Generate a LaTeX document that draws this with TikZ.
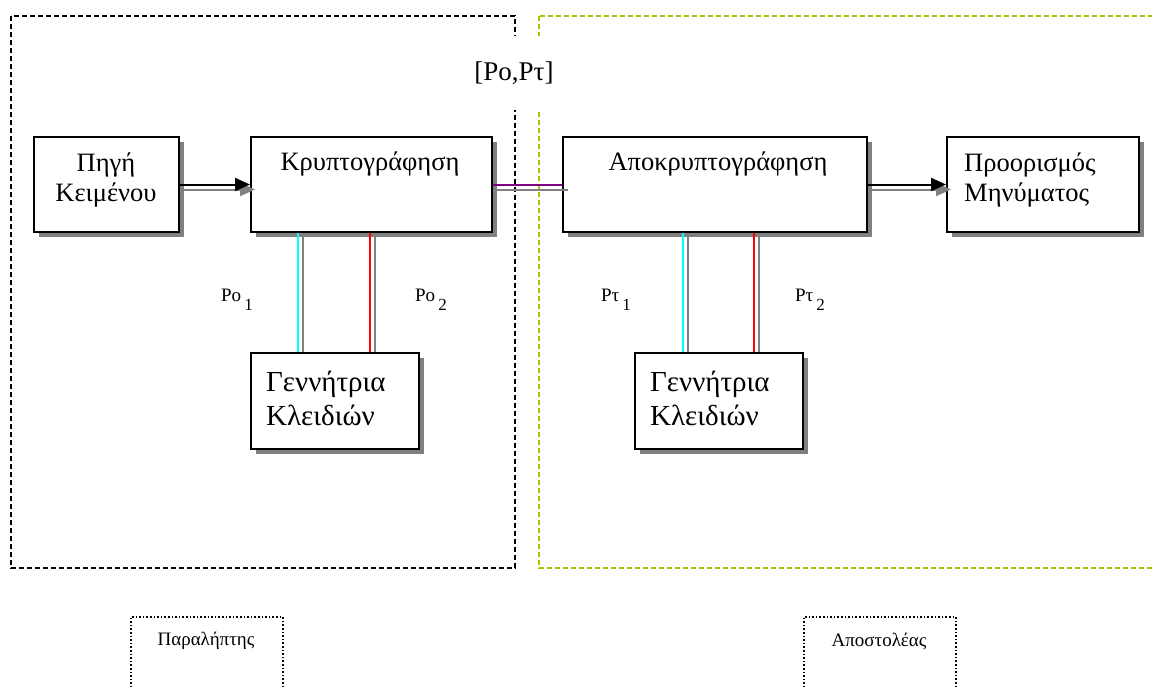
\documentclass[tikz,border=0pt]{standalone}
\usepackage{fontspec}
\setmainfont{Liberation Serif}
\usetikzlibrary{arrows.meta,shadows}
\definecolor{shadowgray}{RGB}{128,128,128}
\definecolor{frgreen}{RGB}{153,204,0}
\definecolor{purp}{RGB}{128,0,128}
\definecolor{keycyan}{RGB}{0,255,255}
\definecolor{keyred}{RGB}{255,0,0}
\begin{document}
\begin{tikzpicture}[x=1pt,y=-1pt,
  box/.style={draw,line width=2pt,fill=white,anchor=north west,inner sep=0pt,
    drop shadow={shadow xshift=5pt,shadow yshift=-5pt,fill=shadowgray,opacity=1}},
  txt/.style={font=\fontsize{26.5}{30}\selectfont,inner sep=0pt},
  gtxt/.style={font=\fontsize{29}{34}\selectfont,inner sep=0pt,align=left,anchor=west},
  sml/.style={font=\fontsize{19}{20}\selectfont,inner sep=0pt},
  conn/.style={line width=2pt},
  tip/.style={-{Triangle[length=15pt,width=13pt]}},
  frame/.style={line width=1.6pt,dash pattern=on 5pt off 3pt},
  dotbox/.style={draw,line width=1.6pt,dotted,anchor=north west,inner sep=0pt}]
\useasboundingbox (0,0) rectangle (1152,686);
\clip (0,0) rectangle (1152,686);
% frames
\draw[frame,black] (11,16) rectangle (515,568);
\draw[frame,frgreen] (539,16) rectangle (1170,568);
% key label box (white, covers frame lines)
\node[fill=white,inner sep=0pt,minimum width=96pt,minimum height=74pt,
  font=\fontsize{27}{30}\selectfont] (key) at (514,73) {[Po,Pτ]};
% boxes
\node[box,minimum width=145pt,minimum height=95pt] (src) at (33,136) {};
\node[box,minimum width=241pt,minimum height=95pt] (enc) at (250,136) {};
\node[box,minimum width=304pt,minimum height=95pt] (dec) at (562,136) {};
\node[box,minimum width=192pt,minimum height=95pt] (dst) at (946,136) {};
\node[box,minimum width=168pt,minimum height=96pt] (gen1) at (250,352) {};
\node[box,minimum width=168pt,minimum height=96pt] (gen2) at (634,352) {};
% texts
\node[txt,align=center] (tsrc) at (106,180) {Πηγή\\Κειμένου};
\node[txt] (tenc) at (370,164) {Κρυπτογράφηση};
\node[txt] (tdec) at (718,164) {Αποκρυπτογράφηση};
\node[txt,align=left,anchor=west] (tdst) at (964,180) {Προορισμός\\Μηνύματος};
\node[gtxt] (tgen1) at (266,398) {Γεννήτρια\\Κλειδιών};
\node[gtxt] (tgen2) at (650,398) {Γεννήτρια\\Κλειδιών};
\node[sml] (po1) at (237,300) {Po\,\raisebox{-0.45em}{\fontsize{17}{17}\selectfont 1}};
\node[sml] (po2) at (431,300) {Po\,\raisebox{-0.45em}{\fontsize{17}{17}\selectfont 2}};
\node[sml] (pt1) at (616,300) {Pτ\,\raisebox{-0.45em}{\fontsize{17}{17}\selectfont 1}};
\node[sml] (pt2) at (810,300) {Pτ\,\raisebox{-0.45em}{\fontsize{17}{17}\selectfont 2}};
% bottom dotted boxes
\node[dotbox,minimum width=152pt,minimum height=120pt] (rcvbox) at (130,616) {};
\node[dotbox,minimum width=152pt,minimum height=120pt] (sndbox) at (803,616) {};
\node[inner sep=0pt,font=\fontsize{19}{20}\selectfont] (rcv) at (206,641) {Παραλήπτης};
\node[inner sep=0pt,font=\fontsize{19}{20}\selectfont] (snd) at (879,641) {Αποστολέας};
% arrows
\draw[conn,shadowgray,tip] ([yshift=-5pt]src.east) -- ([xshift=5pt,yshift=-5pt]enc.west);
\draw[conn,black,tip] (src.east) -- (enc.west);
\draw[conn,shadowgray,tip] ([yshift=-5pt]dec.east) -- ([xshift=5pt,yshift=-5pt]dst.west);
\draw[conn,black,tip] (dec.east) -- (dst.west);
\draw[conn,shadowgray] ([xshift=4pt,yshift=-5pt]enc.east) -- ([xshift=6pt,yshift=-5pt]dec.west);
\draw[conn,purp] (enc.east) -- (dec.west);
% key lines left
\draw[conn,keycyan] ([xshift=48pt]enc.south west) -- ([xshift=48pt]gen1.north west);
\draw[conn,shadowgray] ([xshift=53pt]enc.south west) -- ([xshift=53pt]gen1.north west);
\draw[conn,keyred] ([xshift=120pt]enc.south west) -- ([xshift=120pt]gen1.north west);
\draw[conn,shadowgray] ([xshift=125pt]enc.south west) -- ([xshift=125pt]gen1.north west);
% key lines right
\draw[conn,keycyan] ([xshift=121pt]dec.south west) -- ([xshift=49pt]gen2.north west);
\draw[conn,shadowgray] ([xshift=126pt]dec.south west) -- ([xshift=54pt]gen2.north west);
\draw[conn,keyred] ([xshift=192pt]dec.south west) -- ([xshift=120pt]gen2.north west);
\draw[conn,shadowgray] ([xshift=197pt]dec.south west) -- ([xshift=125pt]gen2.north west);
\end{tikzpicture}
\end{document}
